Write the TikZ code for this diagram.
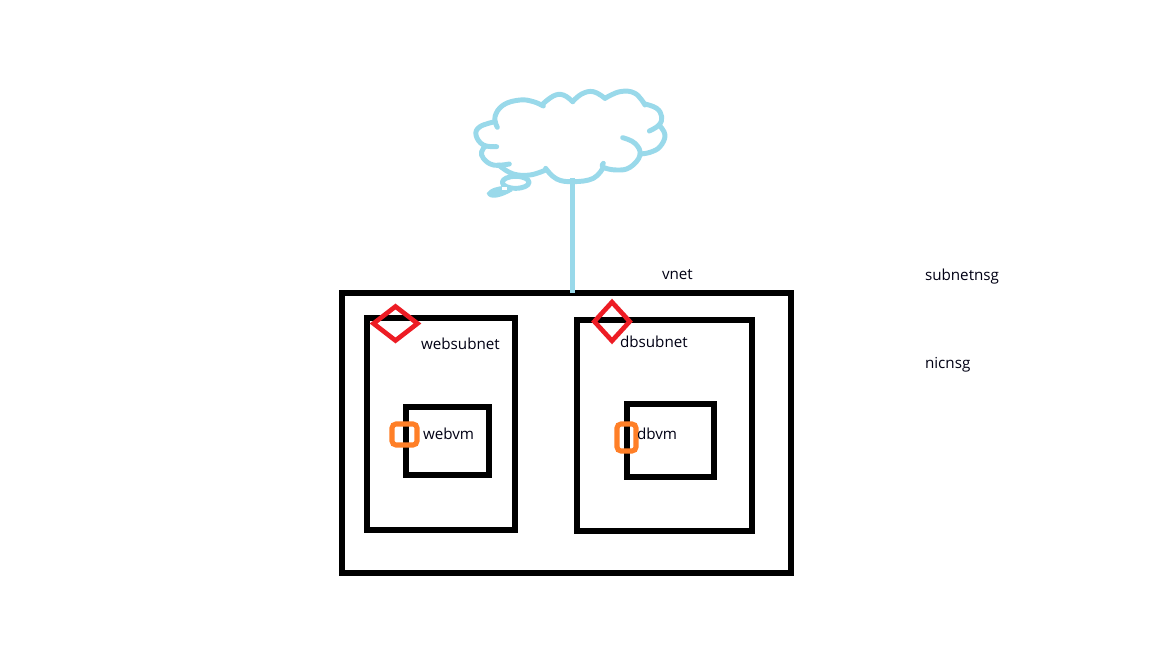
\documentclass[tikz,border=0pt]{standalone}
\usepackage{fontspec}
\setmainfont{Open Sans}
\usetikzlibrary{shapes.geometric}
\definecolor{cloudblue}{RGB}{153,217,234}
\definecolor{nsgred}{RGB}{237,28,36}
\definecolor{nicorange}{RGB}{255,127,39}
\newcommand{\cloudseg}[1]{\draw[cloudline] plot[smooth,tension=0.7] coordinates {#1};}
\tikzset{
  x=0.75pt,y=-0.75pt,
  boxnode/.style={draw=black,line width=3.8pt,inner sep=0,outer sep=0,fill=none},
  nsgnode/.style={draw=nsgred,line width=3.5pt,diamond,inner sep=0,outer sep=0,miter limit=10},
  nicnode/.style={draw=nicorange,line width=3.8pt,rounded corners=3pt,inner sep=0,outer sep=0},
  lbl/.style={anchor=west,inner sep=0,outer sep=0,font=\fontsize{11.4pt}{13pt}\selectfont,text=black!92!blue},
  cloudline/.style={draw=cloudblue,line width=3.7pt,line cap=round,line join=round},
}
\begin{document}
\begin{tikzpicture}
\useasboundingbox (0,0) rectangle (1152,648);
\fill[white] (0,0) rectangle (1152,648);
% cloud
\begin{scope}[shift={(460,80)},x=0.25pt,y=-0.25pt]
\cloudseg{(112,142) (105,110) (130,75) (180,60) (220,65) (250,78)}
\cloudseg{(245,75) (280,48) (310,45) (338,65)}
\cloudseg{(338,65) (365,42) (400,35) (435,55)}
\cloudseg{(435,55) (480,35) (525,40) (555,75)}
\cloudseg{(555,72) (590,85) (605,110) (597,135) (568,153)}
\cloudseg{(597,135) (615,165) (600,200) (570,217) (540,222)}
\cloudseg{(488,173) (525,190) (540,225) (510,262) (470,270) (430,262) (430,250)}
\cloudseg{(430,262) (400,295) (340,305) (290,297) (257,265)}
\cloudseg{(257,270) (210,285) (160,282) (125,262)}
\cloudseg{(148,252) (100,255) (70,235) (65,215) (75,200)}
\cloudseg{(110,200) (70,195) (48,165) (60,140) (105,125)}
\cloudseg{(115,255) (125,262)}
\draw[cloudline] (167,307) ellipse [x radius=40, y radius=18];
\fill[cloudblue] (80,340) .. controls (88,325) and (115,318) .. (135,318) -- (158,333) .. controls (130,350) and (88,365) .. (80,340) -- cycle;
\fill[white] (126,322) rectangle (142,331);
\end{scope}
% boxes
\node[boxnode,minimum width=336.75pt,minimum height=210pt] (vnet) at (566.5,433) {};
\node[boxnode,minimum width=111pt,minimum height=159pt] (websubnet) at (441,424) {};
\node[boxnode,minimum width=131.25pt,minimum height=158.25pt] (dbsubnet) at (664.5,425.5) {};
\node[boxnode,minimum width=62.25pt,minimum height=51pt] (webvm) at (447.5,441) {};
\node[boxnode,minimum width=65.25pt,minimum height=54.75pt] (dbvm) at (670.5,440.5) {};
% connector
\coordinate (cloudbase) at (572.5,178);
\draw[draw=cloudblue,line width=3.7pt] (cloudbase) -- (cloudbase |- vnet.north);
% nsg markers
\node[nsgnode,minimum width=33pt,minimum height=25.5pt] (websubnetnsg) at (395.5,323.5) {};
\node[nsgnode,minimum width=26.5pt,minimum height=29pt] (dbsubnetnsg) at (612,321.5) {};
% nic markers
\node[nicnode,minimum width=18.75pt,minimum height=15.75pt] (webnic) at (404.5,434.5) {};
\node[nicnode,minimum width=14.25pt,minimum height=20.25pt] (dbnic) at (626.5,437.5) {};
% labels
\node[lbl] (vnetlabel) at (662,274.5) {vnet};
\node[lbl] (websubnetlabel) at (421,343.5) {websubnet};
\node[lbl] (dbsubnetlabel) at (620,341.5) {dbsubnet};
\node[lbl] (webvmlabel) at (423,433.5) {webvm};
\node[lbl] (dbvmlabel) at (637,433.5) {dbvm};
\node[lbl] (subnetnsglabel) at (925,277) {subnetnsg};
\node[lbl] (nicnsglabel) at (925,365) {nicnsg};
\end{tikzpicture}
\end{document}
